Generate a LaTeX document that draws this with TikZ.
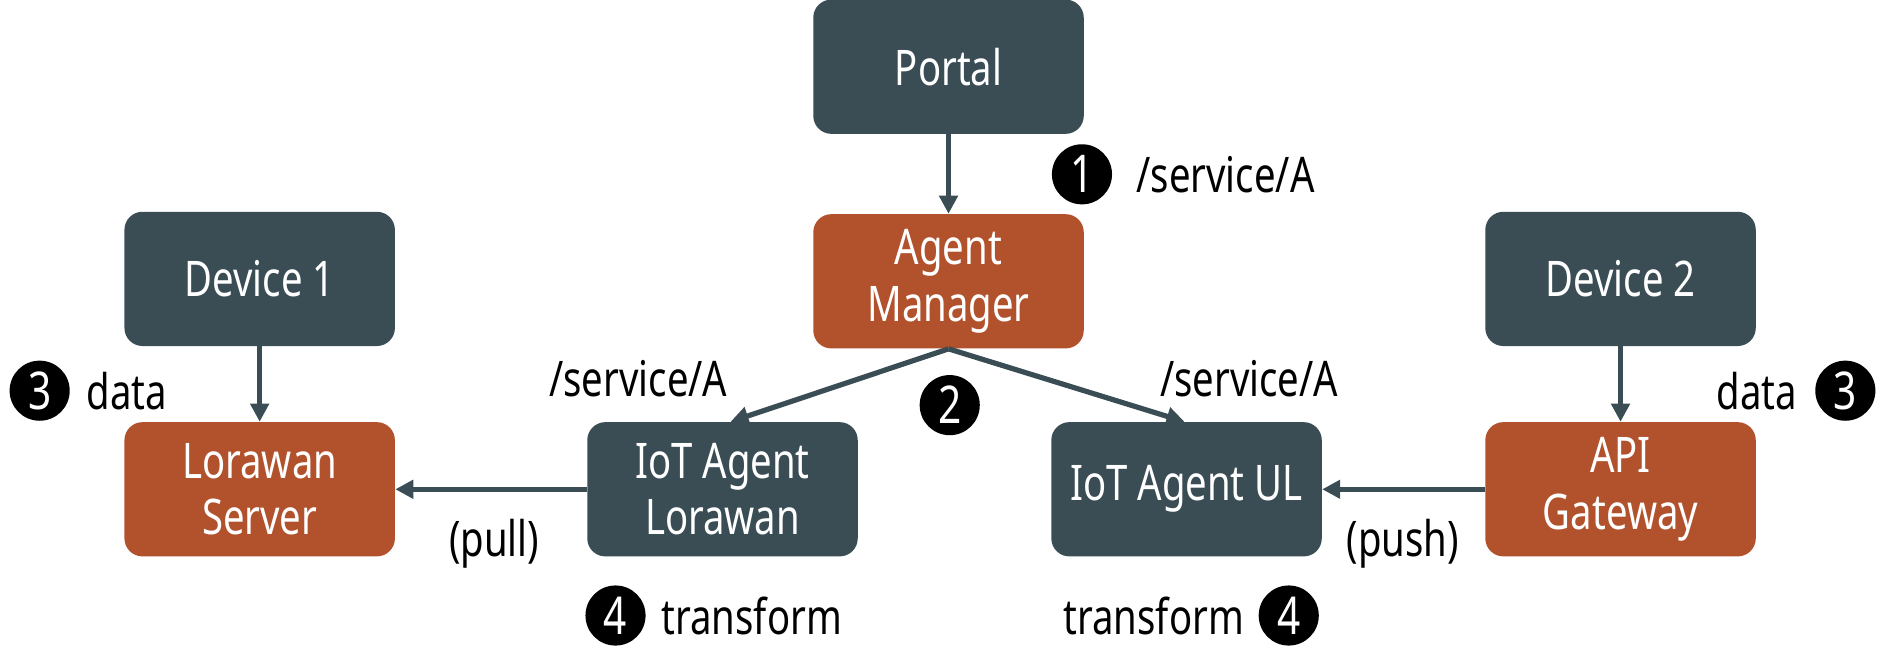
\documentclass[tikz,border=0pt]{standalone}
\usepackage{fontspec}
\setmainfont[FakeStretch=0.78]{Noto Sans}
\usepackage{tikz}
\usetikzlibrary{arrows.meta}
\definecolor{slateGray}{RGB}{58,77,85}
\definecolor{rustOrange}{RGB}{177,82,45}

\begin{document}
\begin{tikzpicture}[x=0.6pt, y=-0.6pt,
  box/.style={rectangle, rounded corners=9pt, minimum width=135pt, minimum height=67pt,
    text=white, align=center, inner sep=0pt, font=\fontsize{24.5}{28}\selectfont},
  dark/.style={box, fill=slateGray},
  warm/.style={box, fill=rustOrange},
  badge/.style={circle, fill=black, text=white, minimum size=30pt, inner sep=0pt,
    font=\fontsize{26}{28}\selectfont},
  lbl/.style={inner sep=0pt, font=\fontsize{24.5}{28}\selectfont},
  flow/.style={draw=slateGray, line width=2.6pt, -{Triangle[length=9pt, width=9pt]}}]

  \newcommand{\mk}[3]{\node[badge] (#1) at (#2) {#3};}

  \useasboundingbox (0,0) rectangle (1568,557);

  \begin{scope}
%
 \node[dark] (portal) at (789,55.5) {Portal};
 \node[warm] (mgr) at (789,234) {Agent\\Manager};
 \node[dark] (dev1) at (216,232) {Device 1};
 \node[warm] (lora) at (216,407) {Lorawan\\Server};
 \node[dark] (iotlora) at (601,407) {IoT Agent\\Lorawan};
 \node[dark] (iotul) at (987,407) {IoT Agent UL};
 \node[dark] (dev2) at (1348,232) {Device 2};
 \node[warm] (api) at (1348,407) {API\\Gateway};
%
 \mk{one}{900,145}{1}
 \mk{two}{790,337}{2}
 \mk{threeL}{33,325}{3}
 \mk{threeR}{1535,325}{3}
 \mk{fourL}{512,512}{4}
 \mk{fourR}{1072,512}{4}
%
 \node[lbl, anchor=west] (svcTop) at (945,145) {/service/A};
 \node[lbl] (svcL) at (531,315) {/service/A};
 \node[lbl] (svcR) at (1039,315) {/service/A};
 \node[lbl, anchor=west] (dataL) at (72,325) {data};
 \node[lbl, anchor=east] (dataR) at (1495,325) {data};
 \node[lbl] (pull) at (411,452) {(pull)};
 \node[lbl] (push) at (1167,452) {(push)};
 \node[lbl, anchor=west] (trL) at (550,512) {transform};
 \node[lbl, anchor=east] (trR) at (1035,512) {transform};
%
 \draw[flow] (portal) -- (mgr);
 \draw[flow] (mgr.south) -- ([xshift=4pt]iotlora.north);
 \draw[flow] (mgr.south) -- ([xshift=-1pt]iotul.north);
 \draw[flow] (dev1) -- (lora);
 \draw[flow] (dev2) -- (api);
 \draw[flow] (iotlora) -- (lora);
 \draw[flow] (api) -- (iotul);
  \end{scope}

\end{tikzpicture}
\end{document}
